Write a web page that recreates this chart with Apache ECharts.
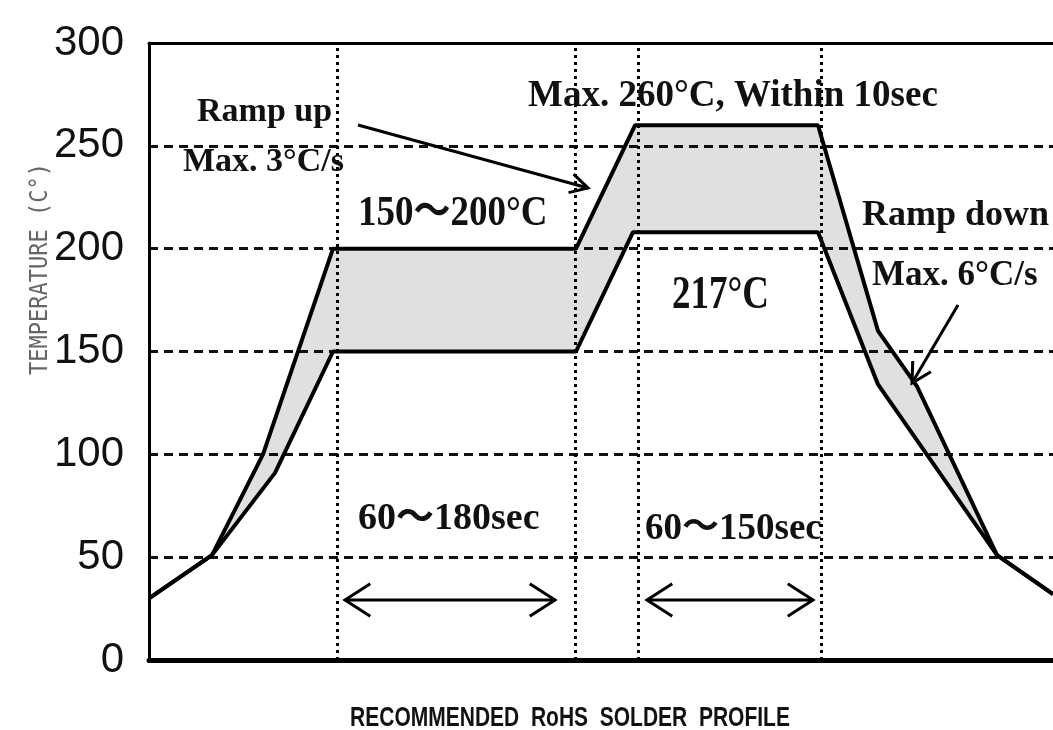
<!DOCTYPE html>
<html>
<head>
<meta charset="utf-8">
<script src="https://cdn.jsdelivr.net/npm/echarts@6/dist/echarts.min.js"></script>
<style>
  html, body { margin: 0; padding: 0; background: #fff; }
  #chart { width: 1053px; height: 730px; }
</style>
</head>
<body>
<div id="chart"></div>
<script>
// profile data (time in arbitrary units, temperature in C)
const upperTime = [0, 31.5, 57, 92, 213.5, 243, 334.5, 364.5, 384, 424, 452];
const upperTemp = [30, 51, 100, 200, 200, 260, 260, 160, 133, 51, 32];
const lowerTime = [0, 31.5, 63, 92, 213.5, 242, 334.5, 364.5, 424, 452];
const lowerTemp = [30, 51, 91, 150, 150, 208, 208, 134, 51, 32];
const zoneTimes = [94, 213, 244.5, 336];
const yMin = 0, yMax = 300, yStep = 50;

const upper = upperTime.map((t, i) => [t, upperTemp[i]]);
const lower = lowerTime.map((t, i) => [t, lowerTemp[i]]);

const chart = echarts.init(document.getElementById("chart"));

const serif = "'Liberation Serif', 'Times New Roman', 'Noto Sans CJK JP', serif";

function label(text, x, y, size, sy) {
  return {
    type: "text", x, y, z: 100, scaleY: sy || 1,
    style: { text, fill: "#111", font: `bold ${size}px ${serif}`, verticalAlign: "middle" },
  };
}

// open V arrow head(s)
function arrow(x1, y1, x2, y2, len, spread, both) {
  const out = [{
    type: "line", z: 100,
    shape: { x1, y1, x2, y2 },
    style: { stroke: "#000", lineWidth: 3 },
  }];
  const head = (xa, ya, xb, yb) => {
    const a = Math.atan2(yb - ya, xb - xa);
    return {
      type: "polyline", z: 100,
      shape: { points: [
        [xb - len * Math.cos(a - spread), yb - len * Math.sin(a - spread)],
        [xb, yb],
        [xb - len * Math.cos(a + spread), yb - len * Math.sin(a + spread)],
      ] },
      style: { stroke: "#000", lineWidth: 3, fill: null },
    };
  };
  out.push(head(x1, y1, x2, y2));
  if (both) out.push(head(x2, y2, x1, y1));
  return out;
}

chart.setOption({
  animation: false,
  grid: { left: 149, right: 0, top: 43, bottom: 70 },
  xAxis: [
    {
      type: "value", min: 0, max: 452,
      axisLine: { show: true, lineStyle: { color: "#000", width: 5 } },
      axisTick: { show: false }, axisLabel: { show: false }, splitLine: { show: false },
    },
    {
      type: "value", min: 0, max: 452, position: "top",
      axisLine: { show: true, lineStyle: { color: "#000", width: 3 } },
      axisTick: { show: false }, axisLabel: { show: false }, splitLine: { show: false },
    },
  ],
  yAxis: {
    type: "value", min: yMin, max: yMax, interval: yStep,
    axisLine: { show: true, lineStyle: { color: "#000", width: 3 } },
    axisTick: { show: false },
    axisLabel: {
      color: "#111", fontSize: 42, margin: 25,
      fontFamily: "'Liberation Sans', Arial, sans-serif",
    },
    splitLine: { show: true, lineStyle: { color: "#111", width: 3, type: [9, 6] } },
  },
  series: [
    {
      type: "custom",
      silent: true,
      z: 1,
      data: [[0, 0]],
      renderItem: (params, api) => {
        const pts = upper.map((p) => api.coord(p))
          .concat(lower.slice().reverse().map((p) => api.coord(p)));
        return { type: "polygon", shape: { points: pts }, style: { fill: "rgba(0,0,0,0.12)" } };
      },
    },
    {
      type: "line", data: lower, showSymbol: false, z: 5,
      lineStyle: { color: "#000", width: 4 },
    },
    {
      type: "line", data: upper, showSymbol: false, z: 5,
      lineStyle: { color: "#000", width: 4 },
      markLine: {
        silent: true, symbol: ["none", "none"], label: { show: false },
        lineStyle: { color: "#000", width: 3, type: [3, 4] },
        data: zoneTimes.map((t) => ({ xAxis: t })),
      },
    },
  ],
  graphic: [
    {
      type: "text", x: 40, y: 269, rotation: Math.PI / 2, scaleX: 0.88, z: 100,
      style: {
        text: "TEMPERATURE (C°)", fill: "#666",
        font: "25px 'DejaVu Sans Mono', 'Liberation Mono', monospace",
        align: "center", verticalAlign: "middle",
      },
    },
    {
      type: "text", x: 570, y: 718, scaleX: 0.75, z: 100,
      style: {
        text: "RECOMMENDED  RoHS  SOLDER  PROFILE", fill: "#111",
        font: "bold 28px 'Liberation Sans', Arial, sans-serif",
        align: "center", verticalAlign: "middle",
      },
    },
    label("Ramp up", 197, 112, 34),
    label("Max. 3°C/s", 183, 162, 34),
    label("150～200°C", 358, 214, 37, 1.15),
    label("Max. 260°C, Within 10sec", 528, 96, 37),
    label("Ramp down", 862, 216, 36),
    label("Max. 6°C/s", 872, 276, 35),
    label("217°C", 672, 296, 37, 1.25),
    label("60～180sec", 358, 519, 38),
    label("60～150sec", 645, 529, 37),
    ...arrow(358, 125, 588, 188, 20, 0.5, false),
    ...arrow(958, 305, 912, 383, 22, 0.5, false),
    ...arrow(345, 600, 555, 600, 30, 0.57, true),
    ...arrow(647, 600, 813, 600, 30, 0.57, true),
  ],
});
</script>
</body>
</html>
